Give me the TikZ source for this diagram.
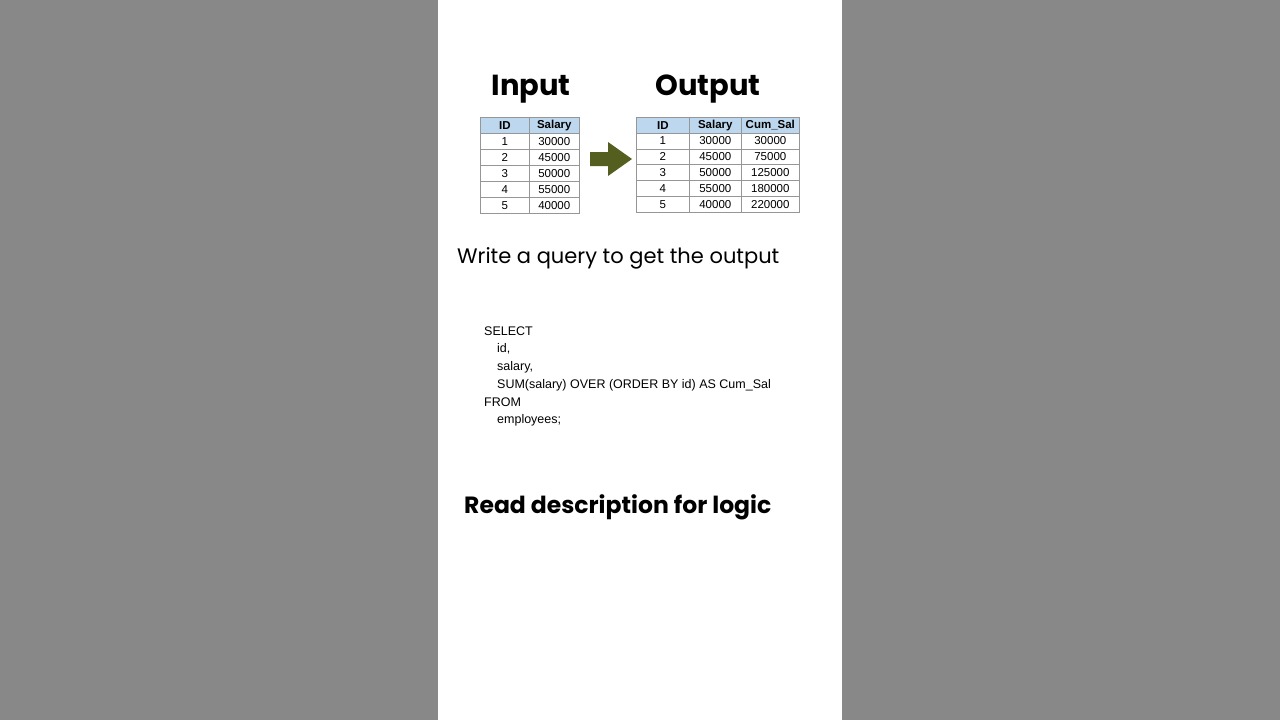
\documentclass[tikz,border=0pt]{standalone}
\usepackage{fontspec}
\setmainfont{Poppins}
\newfontfamily\tabfont{Liberation Sans}
\usetikzlibrary{calc}
\definecolor{sidegray}{RGB}{136,136,136}
\definecolor{headblue}{RGB}{189,215,238}
\definecolor{arrowolive}{RGB}{84,94,30}
\definecolor{gridgray}{RGB}{150,150,150}
\begin{document}
\begin{tikzpicture}
  [
    x=1pt, y=-1pt,
    cell/.style =
      {draw=gridgray, line width=0.6pt, inner sep=0pt, font=\tabfont\fontsize{11.5}{12}\selectfont},
    headcell/.style =
      {cell, fill=headblue, font=\tabfont\bfseries\fontsize{11.5}{12}\selectfont},
    title/.style =
      {font=\bfseries\fontsize{29}{34}\selectfont},
    codeline/.style =
      {anchor=west, inner sep=0pt, font=\tabfont\fontsize{12.5}{14}\selectfont}
  ]

\useasboundingbox (0,0) rectangle (1280,720);
\fill[sidegray] (0,0) rectangle (1280,720);
\fill[white] (438,0) rectangle (842,720);

\node[title] (tin) at (531,89) {Input};
\node[title] (tout) at (708,89) {Output};

% input table
\foreach \t/\l/\w [count=\c] in {ID/480/49, Salary/529/50} {
  \node[headcell, minimum width=\w, minimum height=16, anchor=north west] (in-0-\c) at (\l,117) {\t};
}
\foreach \i/\s [count=\r] in {1/30000, 2/45000, 3/50000, 4/55000, 5/40000} {
  \node[cell, minimum width=49, minimum height=16, anchor=north west] (in-\r-1) at (480,117+16*\r) {\i};
  \node[cell, minimum width=50, minimum height=16, anchor=north west] (in-\r-2) at (529,117+16*\r) {\s};
}

% arrow
\fill[arrowolive] (590,152) -- (608,152) -- (608,142) -- (632,159) -- (608,176) -- (608,166) -- (590,166) -- cycle;

% output table
\foreach \t/\l/\w [count=\c] in {ID/636/53, Salary/689/52, Cum\_Sal/741/58} {
  \node[headcell, minimum width=\w, minimum height=15.8, anchor=north west] (out-0-\c) at (\l,117) {\t};
}
\foreach \i/\s/\u [count=\r] in {1/30000/30000, 2/45000/75000, 3/50000/125000, 4/55000/180000, 5/40000/220000} {
  \node[cell, minimum width=53, minimum height=15.8, anchor=north west] (out-\r-1) at (636,117+15.8*\r) {\i};
  \node[cell, minimum width=52, minimum height=15.8, anchor=north west] (out-\r-2) at (689,117+15.8*\r) {\s};
  \node[cell, minimum width=58, minimum height=15.8, anchor=north west] (out-\r-3) at (741,117+15.8*\r) {\u};
}

\node[anchor=west, inner sep=0pt, font=\fontsize{21}{24}\selectfont] (task) at (457,258) {Write a query to get the output};

% query
\node[codeline] (q1) at (484,331) {SELECT};
\node[codeline] (q2) at (497,349) {id,};
\node[codeline] (q3) at (497,367) {salary,};
\node[codeline] (q4) at (497,385) {SUM(salary) OVER (ORDER BY id) AS Cum\_Sal};
\node[codeline] (q5) at (484,402) {FROM};
\node[codeline] (q6) at (497,420) {employees;};

\node[anchor=west, inner sep=0pt, font=\bfseries\fontsize{23.5}{28}\selectfont] (note) at (464,507) {Read description for logic};

\end{tikzpicture}
\end{document}
